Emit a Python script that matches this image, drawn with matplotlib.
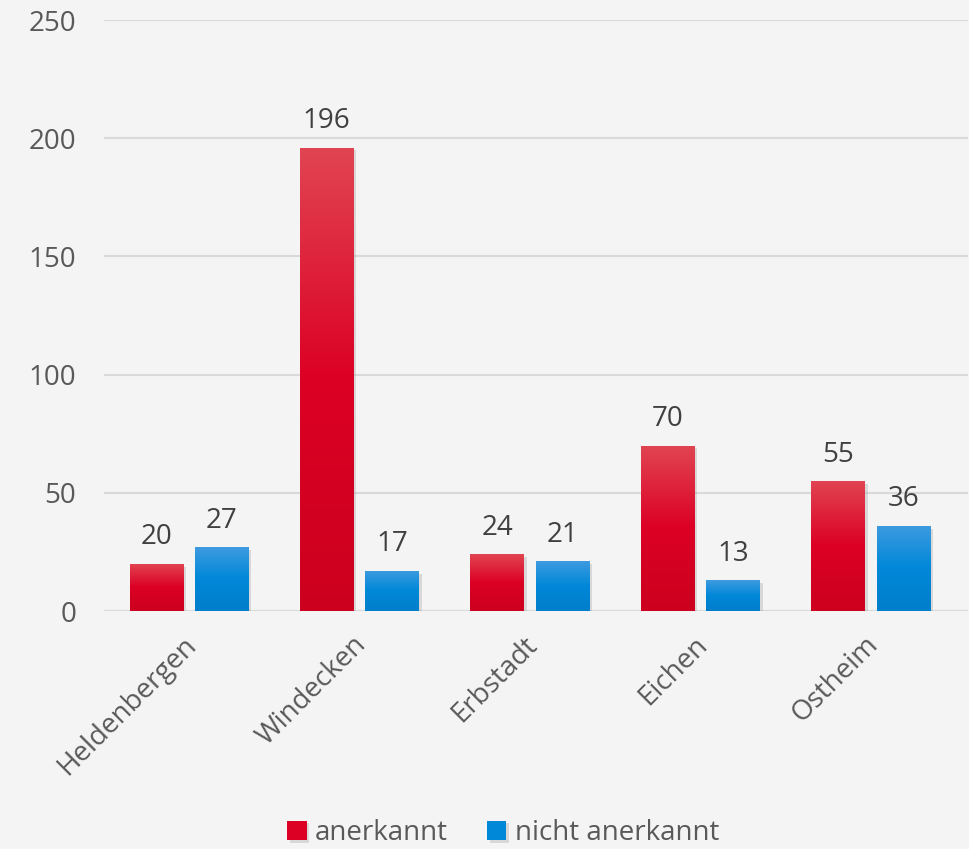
import matplotlib.pyplot as plt
import matplotlib.transforms as mtransforms
import numpy as np
from matplotlib.colors import LinearSegmentedColormap
from matplotlib import patheffects

plt.rcParams['font.family'] = ['Open Sans', 'DejaVu Sans']

orte = ['Heldenbergen', 'Windecken', 'Erbstadt', 'Eichen', 'Ostheim']
anerkannt = [20, 196, 24, 70, 55]
nicht_anerkannt = [27, 17, 21, 13, 36]
series_names = ['anerkannt', 'nicht anerkannt']

bg = '#F4F4F4'
red_cmap = LinearSegmentedColormap.from_list('r', ['#CC001E', '#DC0024', '#E14552'])
blue_cmap = LinearSegmentedColormap.from_list('b', ['#007ECB', '#0088D8', '#3E9BE0'])

fig = plt.figure(figsize=(9.7, 8.49), dpi=100, facecolor=bg)
ax = fig.add_axes([0.107, 0.2803, 0.891, 0.6961], facecolor=bg)

x = np.arange(len(orte))
w = 0.314
off = 0.192
shadow = [patheffects.SimplePatchShadow(offset=(2, -2), shadow_rgbFace='#888888', alpha=0.25),
          patheffects.Normal()]

grad = np.linspace(0, 1, 256).reshape(-1, 1)
for vals, dx, cmap, name in [(anerkannt, -off, red_cmap, series_names[0]),
                             (nicht_anerkannt, off, blue_cmap, series_names[1])]:
    bars = ax.bar(x + dx, vals, width=w, color=cmap(0.5), label=name, zorder=2)
    for b in bars:
        b.set_path_effects(shadow)
        x0, y0 = b.get_x(), b.get_y()
        im = ax.imshow(grad, cmap=cmap, origin='lower', aspect='auto', zorder=3,
                       extent=(x0, x0 + b.get_width(), y0, y0 + b.get_height()))
        im.set_clip_path(b)
    ax.bar_label(bars, padding=9, fontsize=20, color='#404040')

ax.set_xlim(-0.5, len(orte) - 0.43)
ax.set_ylim(0, 250)
ax.set_yticks(range(0, 251, 50))
ax.grid(axis='y', color='#D9D9D9', linewidth=1.5, zorder=0)
ax.set_axisbelow(True)
for s in ax.spines.values():
    s.set_visible(False)
ax.tick_params(axis='both', length=0, labelsize=20, labelcolor='#595959')
ax.tick_params(axis='y', pad=20)
ax.set_xticks(x)
ax.set_xticklabels(orte, rotation=45, ha='right', va='top', rotation_mode='anchor')
ax.tick_params(axis='x', pad=12)
shift = mtransforms.ScaledTranslation(-0.07, -0.03, fig.dpi_scale_trans)
for lbl in ax.get_xticklabels():
    lbl.set_transform(lbl.get_transform() + shift)

fig.legend(loc='center', bbox_to_anchor=(0.5186, 0.0188), ncol=2, frameon=False,
           fontsize=20, labelcolor='#595959', handlelength=0.7, handleheight=0.7,
           handletextpad=0.3, columnspacing=1.4)

fig.savefig('out.png', dpi=100, facecolor=bg)
